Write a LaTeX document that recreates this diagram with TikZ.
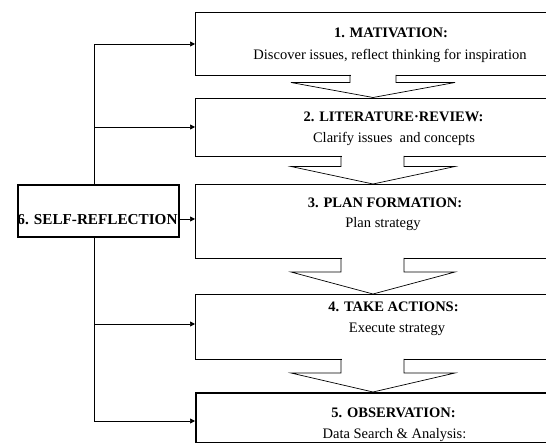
\documentclass[tikz,border=0pt]{standalone}
\usepackage{fontspec}
\setmainfont{Liberation Serif}
\usetikzlibrary{arrows.meta}

\begin{document}
\begin{tikzpicture}[x=1pt,y=-1pt,
    stage/.style={draw,line width=0.7pt,rectangle,anchor=north west,inner sep=0pt},
    keystage/.style={stage,line width=1.6pt},
    flow/.style={-{Triangle[length=5pt,width=5pt]},line width=0.7pt},
    head/.style={font=\fontsize{14.5}{17}\selectfont\bfseries,anchor=base},
    sub/.style={font=\fontsize{14.5}{17}\selectfont,anchor=base}]
    \useasboundingbox (0,0) rectangle (546,443);
    \clip (0,0) rectangle (546,443);

    % stages
    \node[stage,minimum width=410pt,minimum height=63pt] (mot) at (195,12) {};
    \node[stage,minimum width=410pt,minimum height=58pt] (lit) at (195,98) {};
    \node[stage,minimum width=410pt,minimum height=74pt] (plan) at (195,184) {};
    \node[stage,minimum width=410pt,minimum height=65pt] (act) at (195,294) {};
    \node[keystage,minimum width=410pt,minimum height=50pt] (obs) at (195,392) {};

    \node[head] (motT) at (391,37.5) {1. MATIVATION:};
    \node[sub] (motS) at (390,60) {Discover issues, reflect thinking for inspiration};
    \node[head] (litT) at (393.5,122) {2. LITERATURE·REVIEW:};
    \node[sub] (litS) at (394,143) {Clarify issues\ \ and concepts};
    \node[head] (planT) at (385,208) {3. PLAN FORMATION:};
    \node[sub] (planS) at (383,228) {Plan strategy};
    \node[head] (actT) at (393.5,312) {4. TAKE ACTIONS:};
    \node[sub] (actS) at (397,333) {Execute strategy};
    \node[head] (obsT) at (393.5,417.5) {5. OBSERVATION:};
    \node[sub] (obsS) at (394.5,438.5) {Data Search \& Analysis:};

    % block arrows between stages
    \fill[white] (350.5,74) rectangle (395.5,82.5);
    \draw[line width=0.7pt] (350,75) -- (350,82.5) -- (291,82.5) -- (373,97.5) -- (455,82.5) -- (396,82.5) -- (396,75);
    \fill[white] (341.5,155) rectangle (403.5,166.5);
    \draw[line width=0.7pt] (341,156) -- (341,166.5) -- (291,166.5) -- (373,184) -- (455,166.5) -- (404,166.5) -- (404,156);
    \fill[white] (341.5,257) rectangle (403.5,272);
    \draw[line width=0.7pt] (341,258) -- (341,272) -- (291,272) -- (373,294) -- (455,272) -- (404,272) -- (404,258);
    \fill[white] (341.5,358) rectangle (403.5,373);
    \draw[line width=0.7pt] (341,359) -- (341,373) -- (291,373) -- (373,392) -- (455,373) -- (404,373) -- (404,359);

    % self-reflection and feedback
    \node[keystage,minimum width=161pt,minimum height=52pt] (reflect) at (17,184) {};
    \node[head,font=\fontsize{15.2}{18}\selectfont\bfseries] (reflectT) at (97.5,225) {6. SELF-REFLECTION};

    \coordinate (j1) at (94,44);
    \coordinate (j2) at (94,127);
    \coordinate (j3) at (178,219);
    \coordinate (j4) at (94,324);
    \coordinate (j5) at (94,421);

    \draw[line width=0.7pt] (reflect.north -| j1) -- (j1);
    \draw[line width=0.7pt] (reflect.south -| j5) -- (j5);
    \draw[flow] (j1) -- (j1 -| mot.west);
    \draw[flow] (j2) -- (j2 -| lit.west);
    \draw[flow] (j3) -- (j3 -| plan.west);
    \draw[flow] (j4) -- (j4 -| act.west);
    \draw[flow] (j5) -- (j5 -| obs.west);
\end{tikzpicture}
\end{document}
